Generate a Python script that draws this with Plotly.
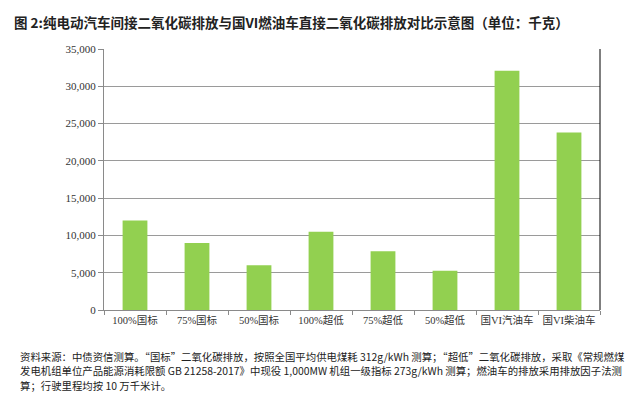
import plotly.graph_objects as go

categories = ["100%国标", "75%国标", "50%国标", "100%超低", "75%超低", "50%超低", "国VI汽油车", "国VI柴油车"]
values = [12000, 9000, 6000, 10500, 7875, 5250, 32100, 23800]
y_ticks = [0, 5000, 10000, 15000, 20000, 25000, 30000, 35000]

title_text = "图 2:纯电动汽车间接二氧化碳排放与国VI燃油车直接二氧化碳排放对比示意图（单位：千克）"
note_lines = [
    "资料来源：中债资信测算。“国标”二氧化碳排放，按照全国平均供电煤耗 312g/kWh 测算；“超低”二氧化碳排放，采取《常规燃煤",
    "发电机组单位产品能源消耗限额 GB 21258-2017》中现役 1,000MW 机组一级指标 273g/kWh 测算；燃油车的排放采用排放因子法测",
    "算；行驶里程均按 10 万千米计。",
]

serif = "Liberation Serif, Noto Sans CJK SC, serif"

fig = go.Figure(go.Bar(x=categories, y=values, marker=dict(color="#92D050", line=dict(width=0)), width=0.4))

fig.update_layout(
    width=640, height=393,
    margin=dict(l=96, r=48, t=41, b=91),
    plot_bgcolor="white", paper_bgcolor="white",
    showlegend=False,
    font=dict(family=serif, size=11, color="#333"),
)
fig.update_yaxes(
    range=[0, 35000], tickvals=y_ticks, tickformat=",d",
    showgrid=True, gridcolor="#9a9a9a", gridwidth=1,
    showline=True, linecolor="#8a8a8a", linewidth=1,
    ticks="outside", ticklen=5, tickcolor="#8a8a8a",
    zeroline=False, tickfont=dict(size=11, color="#333"),
)
fig.update_xaxes(
    showline=True, linecolor="#8a8a8a", linewidth=1,
    ticks="outside", ticklen=4, tickcolor="#8a8a8a", tickson="boundaries",
    tickangle=0, tickfont=dict(size=10.5, color="#333"),
)
fig.add_shape(type="line", xref="paper", yref="paper", x0=1, x1=1, y0=0, y1=1,
              line=dict(color="black", width=1))

fig.add_annotation(text="<b>" + title_text + "</b>", xref="paper", yref="paper",
                   x=-92/496, y=1 + (41-14)/261, xanchor="left", yanchor="middle",
                   showarrow=False, font=dict(family="Noto Sans CJK SC", size=13.5, color="#222"))
for i, line in enumerate(note_lines):
    fig.add_annotation(text=line, xref="paper", yref="paper",
                       x=-86/496, y=-(348 + 14.5*i - 302)/261, xanchor="left", yanchor="middle",
                       showarrow=False, font=dict(family="Noto Sans CJK SC", size=10.4, color="#222"))

fig.write_html("out.html")
